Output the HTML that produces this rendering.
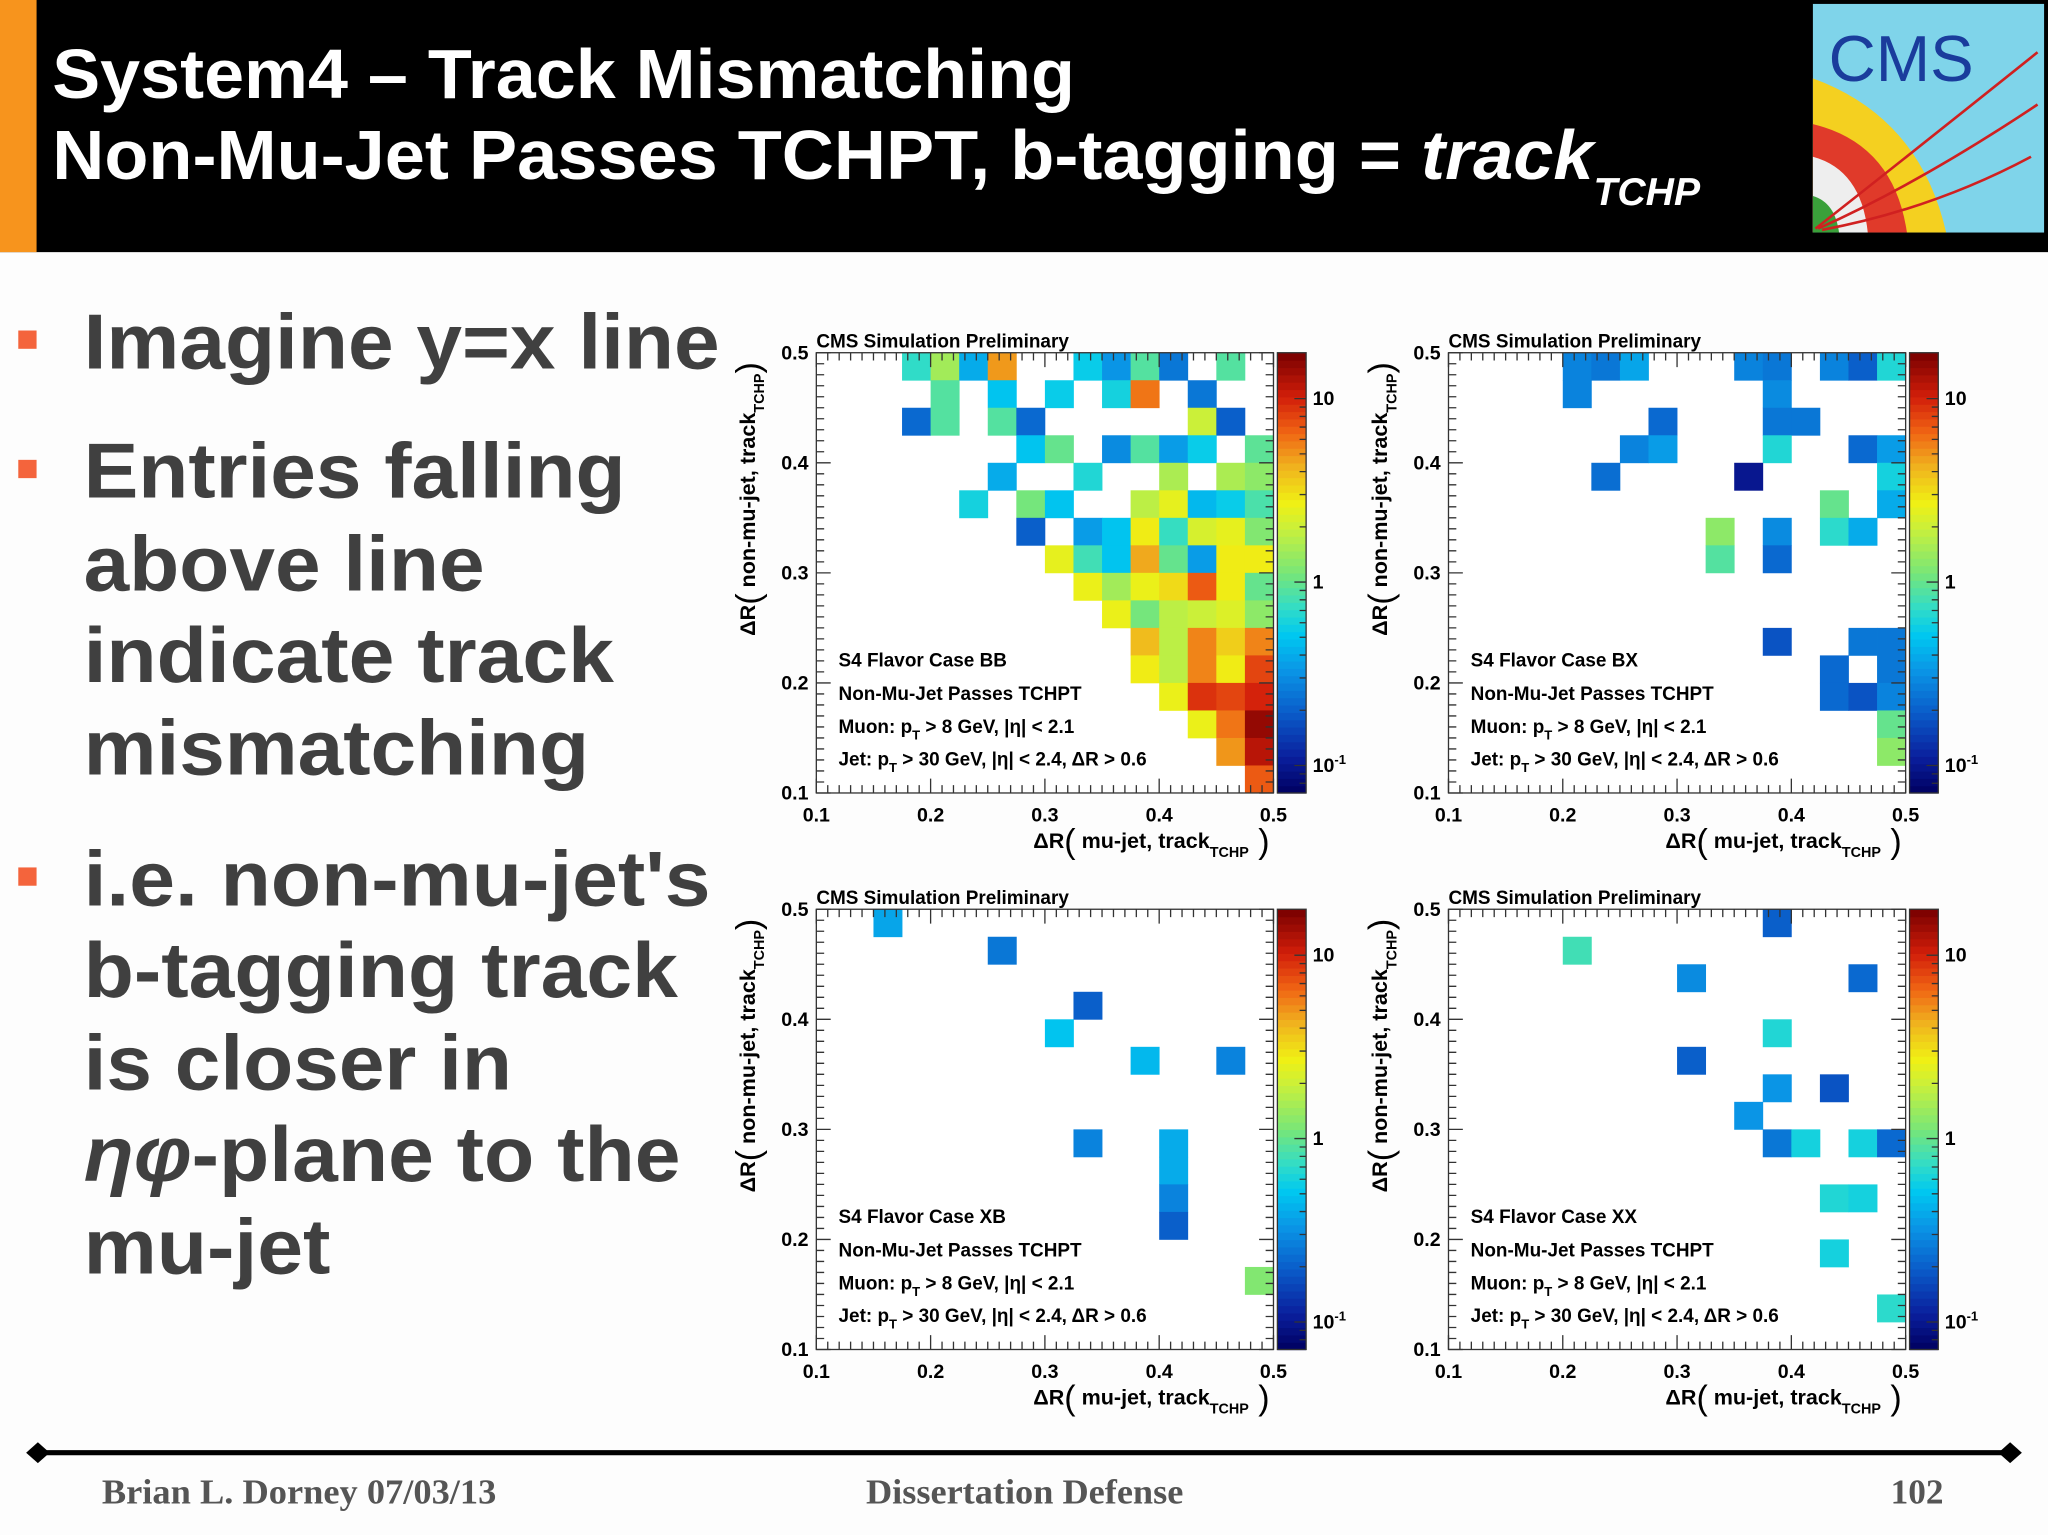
<!DOCTYPE html>
<html><head><meta charset="utf-8"><style>
html,body{margin:0;padding:0;background:#fdfdfd;}
svg{display:block;}
</style></head><body>
<svg id="page" width="2048" height="1535" viewBox="0 0 1568 1175" preserveAspectRatio="none" xmlns="http://www.w3.org/2000/svg" font-family="Liberation Sans, sans-serif">
<rect x="0" y="0" width="1568" height="1175" fill="#fdfdfd"/>
<g>
<rect x="0" y="0" width="1568" height="193" fill="#000"/>
<rect x="0" y="0" width="28" height="193" fill="#f7941d"/>
<text x="40" y="75" fill="#fff" font-size="53" font-weight="bold" textLength="783" lengthAdjust="spacingAndGlyphs">System4 – Track Mismatching</text>
<text x="40" y="137" fill="#fff" font-size="53" font-weight="bold"><tspan textLength="1180" lengthAdjust="spacingAndGlyphs">Non-Mu-Jet Passes TCHPT, b-tagging = <tspan font-style="italic">track</tspan></tspan><tspan font-style="italic" font-size="30" dy="20">TCHP</tspan></text>
<g>
<rect x="1388" y="3" width="177" height="175" fill="#7fd4ea"/>
<path d="M1388 178 L1388 60 Q1470 90 1490 178 Z" fill="#f4d020"/>
<path d="M1388 178 L1388 95 Q1450 110 1460 178 Z" fill="#e03a2a"/>
<path d="M1388 178 L1388 120 Q1425 130 1430 178 Z" fill="#eee"/>
<path d="M1388 178 L1388 150 Q1405 155 1408 178 Z" fill="#3aa03a"/>
<path d="M1390 175 Q1460 120 1560 40 M1392 175 Q1470 140 1560 80 M1395 176 Q1480 160 1555 120" stroke="#d02020" stroke-width="2" fill="none"/>
<text x="1400" y="62" font-size="50" fill="#1a3c9c">CMS</text>
</g>
</g>
<g fill="#404040" font-weight="bold" font-size="60">
<rect x="14" y="253" width="14" height="14" fill="#f4643c"/>
<rect x="14" y="352" width="14" height="14" fill="#f4643c"/>
<rect x="14" y="664" width="14" height="14" fill="#f4643c"/>
<text x="64" y="282" textLength="487" lengthAdjust="spacingAndGlyphs">Imagine y=x line</text>
<text x="64" y="381" textLength="415" lengthAdjust="spacingAndGlyphs">Entries falling</text>
<text x="64" y="452" textLength="307" lengthAdjust="spacingAndGlyphs">above line</text>
<text x="64" y="522" textLength="406" lengthAdjust="spacingAndGlyphs">indicate track</text>
<text x="64" y="593" textLength="387" lengthAdjust="spacingAndGlyphs">mismatching</text>
<text x="64" y="693" textLength="480" lengthAdjust="spacingAndGlyphs">i.e. non-mu-jet's</text>
<text x="64" y="763" textLength="455" lengthAdjust="spacingAndGlyphs">b-tagging track</text>
<text x="64" y="834" textLength="328" lengthAdjust="spacingAndGlyphs">is closer in</text>
<text x="64" y="904" textLength="457" lengthAdjust="spacingAndGlyphs"><tspan font-style="italic">ηφ</tspan>-plane to the</text>
<text x="64" y="975" textLength="189" lengthAdjust="spacingAndGlyphs">mu-jet</text>
</g>
<g id="plots"></g>
<g font-family="Liberation Serif, serif" font-weight="bold" font-size="27" fill="#555">
<line x1="28" y1="1112" x2="1540" y2="1112" stroke="#000" stroke-width="4"/>
<path d="M20 1112 L29 1104 L38 1112 L29 1120 Z" fill="#000"/>
<path d="M1530 1112 L1539 1104 L1548 1112 L1539 1120 Z" fill="#000"/>
<text x="78" y="1151" textLength="302" lengthAdjust="spacingAndGlyphs">Brian L. Dorney 07/03/13</text>
<text x="663" y="1151" textLength="243" lengthAdjust="spacingAndGlyphs">Dissertation Defense</text>
<text x="1488" y="1151" text-anchor="end">102</text>
</g>
</svg>
<script>
// Bin grid: 16x16 bins over 0.1..0.5; col = x bin from left, row = y bin from top
const bbCols = [3,4,5,6,9,10,11,12,14, 4,6,8,10,11,13, 3,4,6,7,13,14, 7,8,10,11,12,13,15, 6,9,12,14,15, 5,7,8,11,12,13,14,15, 7,9,10,11,12,13,14,15, 8,9,10,11,12,13,14,15, 9,10,11,12,13,14,15, 10,11,12,13,14,15, 11,12,13,14,15, 11,12,13,14,15, 12,13,14,15, 13,14,15, 14,15, 15];
const bbRows = [0,0,0,0,0,0,0,0,0, 1,1,1,1,1,1, 2,2,2,2,2,2, 3,3,3,3,3,3,3, 4,4,4,4,4, 5,5,5,5,5,5,5,5, 6,6,6,6,6,6,6,6, 7,7,7,7,7,7,7,7, 8,8,8,8,8,8,8, 9,9,9,9,9,9, 10,10,10,10,10, 11,11,11,11,11, 12,12,12,12, 13,13,13, 14,14, 15];
const bbVals = [0.72,1.5,0.4,4.9,0.55,0.33,0.9,0.25,0.9, 0.9,0.5,0.55,0.6,6,0.25, 0.22,0.9,0.9,0.22,2,0.2, 0.5,1.0,0.3,0.9,0.35,0.55,0.95, 0.4,0.65,1.6,1.6,1.3, 0.6,1.1,0.5,1.8,2.5,0.45,0.55,0.85, 0.2,0.35,0.5,2.8,0.75,2.2,2.5,1.2, 2.5,0.8,0.5,4.5,1.0,0.35,2.8,2.8, 2.6,1.5,2.6,3.2,7,2.8,1.0, 2.6,1.1,1.8,2.0,2.3,1.3, 4,1.8,5.5,3.5,5.5, 2.8,1.8,5.5,2.8,8, 2.6,9,8,10, 2.6,6,15, 5,12, 7];
const bxCols = [4,5,6,10,11,13,14,15, 4,11, 7,11,12, 6,7,11,14,15, 5,10,15, 13,15, 9,11,13,14, 9,11, 11,14,15, 13,15, 13,14,15, 15, 15];
const bxRows = [0,0,0,0,0,0,0,0, 1,1, 2,2,2, 3,3,3,3,3, 4,4,4, 5,5, 6,6,6,6, 7,7, 10,10,10, 11,11, 12,12,12, 13, 14];
const bxVals = [0.28,0.25,0.38,0.28,0.25,0.28,0.2,0.65, 0.28,0.3, 0.22,0.25,0.25, 0.28,0.35,0.65,0.22,0.35, 0.23,0.1,0.6, 1.0,0.4, 1.3,0.3,0.7,0.4, 0.9,0.22, 0.18,0.25,0.25, 0.22,0.25, 0.22,0.18,0.28, 1.0, 1.3];
const xbCols = [2,6,9,8,11,14,9,12,12,12,12,15];
const xbRows = [0,1,3,4,5,5,8,8,9,10,11,13];
const xbVals = [0.38,0.25,0.2,0.5,0.45,0.28,0.28,0.4,0.4,0.28,0.2,1.2];
const xxCols = [11,4,8,14,11,8,11,13,10,11,12,14,15,13,14,13,15];
const xxRows = [0,1,2,2,4,5,6,6,7,8,8,8,8,10,10,12,14];
const xxVals = [0.2,0.8,0.3,0.22,0.65,0.2,0.33,0.18,0.33,0.25,0.6,0.6,0.22,0.65,0.6,0.6,0.7];
const axisTicks = [0.1,0.2,0.3,0.4,0.5];
const axisTickLabels = ["0.1","0.2","0.3","0.4","0.5"];
const zTicks = [0.1,1,10];
const panelTitles = ["S4 Flavor Case BB","S4 Flavor Case BX","S4 Flavor Case XB","S4 Flavor Case XX"];

const NS="http://www.w3.org/2000/svg";
const root=document.getElementById('plots');
const ZMIN=Math.log10(0.0708), ZMAX=Math.log10(17.8);
const stops=[[0,[0,0,96]],[0.08,[10,30,156]],[0.18,[10,90,200]],[0.28,[10,150,230]],[0.36,[0,200,240]],[0.42,[48,220,200]],[0.5,[120,230,120]],[0.6,[200,240,60]],[0.66,[240,240,20]],[0.74,[240,180,30]],[0.82,[240,100,20]],[0.9,[210,30,10]],[1,[120,0,0]]];
function cmap(t){t=Math.max(0,Math.min(1,t));for(let i=1;i<stops.length;i++){if(t<=stops[i][0]){const a=stops[i-1],b=stops[i],f=(t-a[0])/(b[0]-a[0]);const c=a[1].map((v,k)=>Math.round(v+(b[1][k]-v)*f));return `rgb(${c[0]},${c[1]},${c[2]})`;}}return 'rgb(120,0,0)';}
function zFrac(v){return (Math.log10(v)-ZMIN)/(ZMAX-ZMIN);}
function mk(tag,attrs,parent){const e=document.createElementNS(NS,tag);for(const k in attrs)e.setAttribute(k,attrs[k]);parent.appendChild(e);return e;}
function txt(parent,x,y,s,size,anchor,name){const t=mk('text',{x:x,y:y,'font-size':size,'font-weight':'bold','text-anchor':anchor||'start',fill:'#000'},parent);t.textContent=s;


return t;}

function drawPanel(px,py,cols,rows,vals,title,idx){
  const W=350,H=337,x0=px,y0=py;
  const g=mk('g',{},root);
  
  
  const sx=v=>x0+(v-0.1)/0.4*W, sy=v=>y0+H-(v-0.1)/0.4*H;
  mk('rect',{x:x0,y:y0,width:W,height:H,fill:'#fff'},g);
  for(let i=0;i<vals.length;i++){
    const xv=0.1+cols[i]*0.025, yv=0.5-rows[i]*0.025;
    const r=mk('rect',{x:sx(xv),y:sy(yv),width:sx(xv+0.025)-sx(xv)+0.3,height:sy(yv-0.025)-sy(yv)+0.3,fill:cmap(zFrac(vals[i]))},g);
    
    
  }
  const fr=mk('rect',{x:x0,y:y0,width:W,height:H,fill:'none',stroke:'#333','stroke-width':1},g);
  
  
  let d='';
  for(let k=0;k<=40;k++){const v=0.1+k*0.01;const major=(k%10===0);const L=major?11:6;
    const X=sx(v),Y=sy(v);
    d+=`M${X} ${y0+H}v${-L}M${X} ${y0}v${L}M${x0} ${Y}h${L}M${x0+W} ${Y}h${-L}`;}
  mk('path',{d:d,stroke:'#333','stroke-width':1,fill:'none'},g);
  axisTicks.forEach((v,i)=>{
    txt(g,sx(v),y0+H+22,axisTickLabels[i],15,'middle','x-tick-label');
    txt(g,x0-6,sy(v)+5,axisTickLabels[i],15,'end','y-tick-label');
  });
  txt(g,x0,y0-4,'CMS Simulation Preliminary',14.5,'start','cms-preliminary-label');
  txt(g,x0+17,y0+240,title,14.5,'start','panel-title');
  txt(g,x0+17,y0+266,'Non-Mu-Jet Passes TCHPT',14.5,'start','selection-label');
  const m=txt(g,x0+17,y0+291,'',14.5,'start','muon-cut-label');
  m.innerHTML='Muon: p<tspan font-size="10" dy="5">T</tspan><tspan dy="-5"> &gt; 8 GeV, |η| &lt; 2.1</tspan>';
  const j=txt(g,x0+17,y0+316,'',14.5,'start','jet-cut-label');
  j.innerHTML='Jet: p<tspan font-size="10" dy="5">T</tspan><tspan dy="-5"> &gt; 30 GeV, |η| &lt; 2.4, ΔR &gt; 0.6</tspan>';
  const xt=txt(g,x0+W-3,y0+H+42,'',16.5,'end','x-axis-title');
  xt.innerHTML='ΔR<tspan font-size="26" font-weight="normal" dy="4">(</tspan><tspan dy="-4"> mu-jet, track</tspan><tspan font-size="11" dy="7">TCHP</tspan><tspan font-size="26" font-weight="normal" dy="-3"> )</tspan>';
  const yt=txt(g,0,0,'',16.5,'middle','y-axis-title');
  yt.setAttribute('transform',`translate(${x0-47},${y0+112}) rotate(-90)`);
  yt.innerHTML='ΔR<tspan font-size="26" font-weight="normal" dy="4">(</tspan><tspan dy="-4"> non-mu-jet, track</tspan><tspan font-size="11" dy="7">TCHP</tspan><tspan font-size="26" font-weight="normal" dy="-3">)</tspan>';
  const cb=mk('g',{},g);
  
  
  const cx=x0+W+3,cw=22,N=60;
  for(let k=0;k<N;k++){mk('rect',{x:cx,y:y0+H-(k+1)*H/N,width:cw,height:H/N+0.5,fill:cmap((k+0.5)/N)},cb);}
  mk('rect',{x:cx,y:y0,width:cw,height:H,fill:'none',stroke:'#333','stroke-width':1},cb);
  const zy=v=>y0+H-zFrac(v)*H;
  let dz='';
  for(let e=-2;e<=1;e++)for(let m2=1;m2<10;m2++){const v=m2*Math.pow(10,e);if(v<0.0708||v>17.8)continue;dz+=`M${cx+cw} ${zy(v)}h${m2===1?-9:-5}`;}
  mk('path',{d:dz,stroke:'#333','stroke-width':1,fill:'none'},cb);
  zTicks.forEach(v=>{
    const t=txt(cb,cx+cw+5,zy(v)+5,'',15,'start','color-scale-tick-label');
    if(v===0.1)t.innerHTML='10<tspan font-size="10" dy="-6">-1</tspan>';else t.textContent=String(v);
  });
}
drawPanel(625,270,bbCols,bbRows,bbVals,panelTitles[0],0);
drawPanel(1109,270,bxCols,bxRows,bxVals,panelTitles[1],1);
drawPanel(625,696,xbCols,xbRows,xbVals,panelTitles[2],2);
drawPanel(1109,696,xxCols,xxRows,xxVals,panelTitles[3],3);
</script>
</body></html>
